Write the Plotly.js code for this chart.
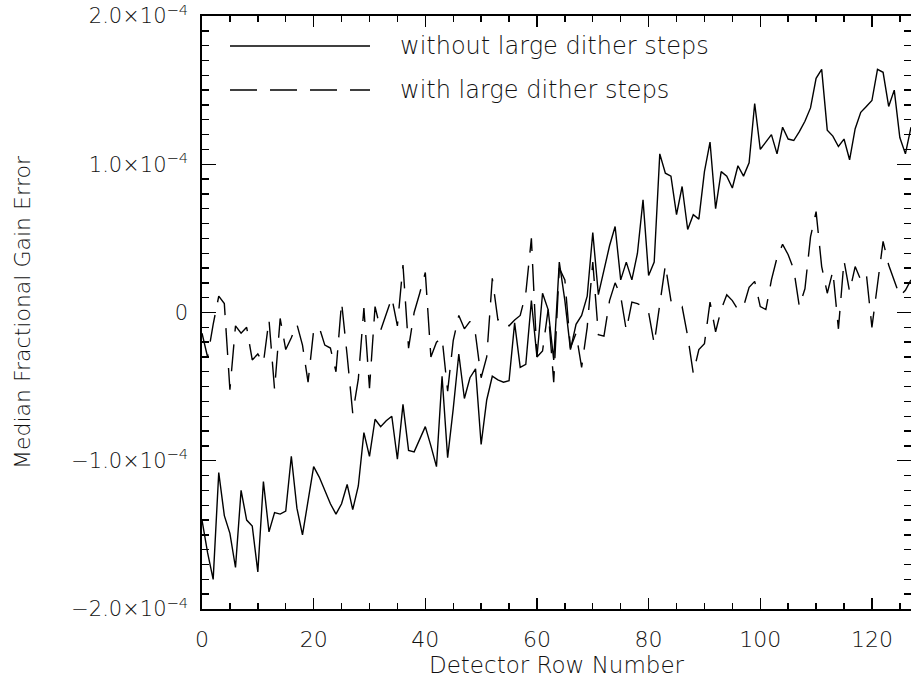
<!DOCTYPE html>
<html>
<head>
<meta charset="utf-8">
<script src="https://cdn.plot.ly/plotly-3.0.1.min.js"></script>
<style>
html,body{margin:0;padding:0;background:#fff;}
#chart{width:911px;height:679px;}
</style>
</head>
<body>
<div id="chart"></div>
<script>
// Detector row numbers
const rows = [];
for (let i = 0; i <= 127; i++) rows.push(i);

// Median fractional gain error, without large dither steps (solid)
const withoutDither = [
 -1.40e-4,-1.62e-4,-1.80e-4,-1.08e-4,-1.37e-4,-1.49e-4,-1.72e-4,-1.20e-4,-1.40e-4,-1.44e-4,
 -1.75e-4,-1.14e-4,-1.48e-4,-1.35e-4,-1.36e-4,-1.34e-4,-0.97e-4,-1.32e-4,-1.50e-4,-1.26e-4,
 -1.04e-4,-1.11e-4,-1.20e-4,-1.29e-4,-1.36e-4,-1.29e-4,-1.16e-4,-1.33e-4,-1.17e-4,-0.81e-4,
 -0.97e-4,-0.72e-4,-0.77e-4,-0.73e-4,-0.70e-4,-0.99e-4,-0.62e-4,-0.93e-4,-0.94e-4,-0.85e-4,
 -0.77e-4,-0.90e-4,-1.04e-4,-0.43e-4,-0.98e-4,-0.65e-4,-0.28e-4,-0.58e-4,-0.44e-4,-0.38e-4,
 -0.89e-4,-0.59e-4,-0.43e-4,-0.455e-4,-0.47e-4,-0.46e-4,-0.07e-4,-0.37e-4,-0.35e-4,0.08e-4,
 -0.30e-4,0.13e-4,0.02e-4,-0.32e-4,0.34e-4,0.08e-4,-0.25e-4,-0.08e-4,-0.02e-4,0.11e-4,
 0.54e-4,0.12e-4,0.28e-4,0.45e-4,0.58e-4,0.22e-4,0.34e-4,0.22e-4,0.40e-4,0.76e-4,
 0.25e-4,0.34e-4,1.07e-4,0.94e-4,0.92e-4,0.66e-4,0.85e-4,0.56e-4,0.66e-4,0.63e-4,
 0.95e-4,1.15e-4,0.70e-4,0.95e-4,0.92e-4,0.84e-4,0.99e-4,0.92e-4,1.01e-4,1.41e-4,
 1.10e-4,1.15e-4,1.20e-4,1.07e-4,1.25e-4,1.17e-4,1.16e-4,1.22e-4,1.29e-4,1.38e-4,
 1.58e-4,1.64e-4,1.23e-4,1.19e-4,1.12e-4,1.17e-4,1.03e-4,1.24e-4,1.35e-4,1.39e-4,
 1.43e-4,1.64e-4,1.62e-4,1.39e-4,1.50e-4,1.18e-4,1.07e-4,1.25e-4
];

// Median fractional gain error, with large dither steps (dashed)
const withDither = [
 -0.14e-4,-0.30e-4,-0.08e-4,0.11e-4,0.06e-4,-0.52e-4,-0.09e-4,-0.14e-4,-0.10e-4,-0.32e-4,
 -0.28e-4,-0.34e-4,-0.05e-4,-0.52e-4,-0.04e-4,-0.25e-4,-0.17e-4,-0.08e-4,-0.22e-4,-0.47e-4,
 -0.12e-4,-0.10e-4,-0.22e-4,-0.24e-4,-0.40e-4,0.07e-4,-0.29e-4,-0.68e-4,-0.45e-4,0.03e-4,
 -0.51e-4,0.04e-4,-0.12e-4,-0.01e-4,0.10e-4,-0.09e-4,0.32e-4,-0.24e-4,0.00e-4,0.13e-4,
 0.27e-4,-0.30e-4,-0.20e-4,-0.17e-4,-0.53e-4,-0.19e-4,-0.02e-4,-0.11e-4,-0.06e-4,-0.15e-4,
 -0.44e-4,-0.30e-4,0.23e-4,-0.05e-4,-0.04e-4,-0.09e-4,-0.05e-4,-0.02e-4,0.13e-4,0.50e-4,
 -0.30e-4,-0.26e-4,0.02e-4,-0.47e-4,0.30e-4,0.22e-4,-0.24e-4,-0.14e-4,-0.37e-4,-0.10e-4,
 0.34e-4,-0.15e-4,-0.16e-4,0.08e-4,0.20e-4,0.11e-4,-0.12e-4,0.07e-4,0.06e-4,0.04e-4,
 0.00e-4,-0.21e-4,0.04e-4,0.32e-4,0.08e-4,0.04e-4,0.04e-4,-0.16e-4,-0.41e-4,-0.25e-4,
 -0.21e-4,0.07e-4,-0.13e-4,0.02e-4,0.12e-4,0.08e-4,0.02e-4,0.04e-4,0.17e-4,0.21e-4,
 0.04e-4,0.02e-4,0.22e-4,0.37e-4,0.46e-4,0.39e-4,0.29e-4,0.04e-4,0.16e-4,0.51e-4,
 0.68e-4,0.31e-4,0.13e-4,0.28e-4,-0.11e-4,0.35e-4,0.14e-4,0.31e-4,0.22e-4,0.26e-4,
 -0.10e-4,0.20e-4,0.48e-4,0.32e-4,0.21e-4,0.11e-4,0.15e-4,0.22e-4
];

const seriesNames = ['without large dither steps', 'with large dither steps'];

const xRange = [0, 127];
const yRange = [-2e-4, 2e-4];
const xTickVals = [0, 20, 40, 60, 80, 100, 120];
const xTickText = ['0', '20', '40', '60', '80', '100', '120'];
const yTickVals = [-2e-4, -1e-4, 0, 1e-4, 2e-4];
const yTickText = ['\u22122.0\u00d710<sup>\u22124</sup>', '\u22121.0\u00d710<sup>\u22124</sup>', '0',
                   '1.0\u00d710<sup>\u22124</sup>', '2.0\u00d710<sup>\u22124</sup>'];

const FONT = 'DejaVu Sans, sans-serif';
const INK = '#000';
const TEXT = '#111';
const DASH = '27px,13px';

const traces = [
  {x: rows, y: withoutDither, type: 'scatter', mode: 'lines', name: seriesNames[0],
   line: {color: INK, width: 1.4}},
  {x: rows, y: withDither, type: 'scatter', mode: 'lines', name: seriesNames[1],
   line: {color: INK, width: 1.4, dash: DASH}}
];

const axisCommon = {
  showgrid: false, zeroline: false, showline: true, linecolor: INK, linewidth: 1.6,
  mirror: 'allticks', ticks: 'inside', tickcolor: INK, tickwidth: 1.4,
  tickfont: {family: FONT, size: 22, color: TEXT, weight: 200},
  fixedrange: true
};
const xMinor = {dtick: 5, tick0: 0, ticklen: 6, ticks: 'inside', tickcolor: INK, tickwidth: 1.4};
const yMinor = {dtick: 1e-5, tick0: 0, ticklen: 7, ticks: 'inside', tickcolor: INK, tickwidth: 1.4};

const layout = {
  width: 911, height: 679,
  margin: {l: 202, r: 0, t: 16, b: 70},
  paper_bgcolor: '#fff', plot_bgcolor: '#fff',
  showlegend: false,
  font: {family: FONT, color: TEXT},
  xaxis: Object.assign({}, axisCommon, {
    range: xRange, tickvals: xTickVals, ticktext: xTickText, ticklen: 11,
    ticklabelstandoff: 10, minor: xMinor,
    title: {text: 'Detector Row Number', font: {family: FONT, size: 23, color: TEXT, weight: 200}, standoff: 4}
  }),
  yaxis: Object.assign({}, axisCommon, {
    range: yRange, tickvals: yTickVals, ticktext: yTickText, ticklen: 14,
    ticklabelstandoff: 8, minor: yMinor,
    tickfont: {family: FONT, size: 21, color: TEXT, weight: 200},
    title: {text: 'Median Fractional Gain Error', font: {family: FONT, size: 22, color: TEXT, weight: 200}, standoff: 34}
  }),
  xaxis2: {
    overlaying: 'x', anchor: 'y', side: 'top', range: xRange, tickvals: xTickVals,
    showticklabels: false, showgrid: false, zeroline: false, showline: false,
    ticks: 'inside', ticklen: 11, tickcolor: INK, tickwidth: 1.4, minor: xMinor, fixedrange: true
  },
  yaxis2: {
    overlaying: 'y', anchor: 'x', side: 'right', range: yRange, tickvals: yTickVals,
    showticklabels: false, showgrid: false, zeroline: false, showline: false,
    ticks: 'inside', ticklen: 14, tickcolor: INK, tickwidth: 1.4, minor: yMinor, fixedrange: true
  },
  shapes: [
    {type: 'line', xref: 'paper', yref: 'paper', x0: 0.0395, x1: 0.237, y0: 0.9494, y1: 0.9494,
     line: {color: INK, width: 1.4}},
    {type: 'line', xref: 'paper', yref: 'paper', x0: 0.0395, x1: 0.237, y0: 0.8752, y1: 0.8752,
     line: {color: INK, width: 1.4, dash: DASH}}
  ],
  annotations: [
    {xref: 'paper', yref: 'paper', x: 0.2764, y: 0.9494, xanchor: 'left', yanchor: 'middle',
     text: seriesNames[0], showarrow: false, font: {family: FONT, size: 24, color: TEXT, weight: 200}},
    {xref: 'paper', yref: 'paper', x: 0.2764, y: 0.8752, xanchor: 'left', yanchor: 'middle',
     text: seriesNames[1], showarrow: false, font: {family: FONT, size: 24, color: TEXT, weight: 200}}
  ]
};

Plotly.newPlot('chart', traces, layout, {staticPlot: true, displayModeBar: false});
</script>
</body>
</html>
